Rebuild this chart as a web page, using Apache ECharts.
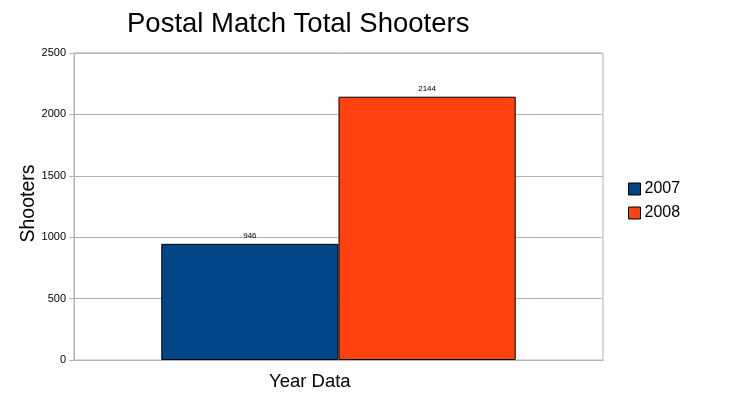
<!DOCTYPE html>
<html>
<head>
<meta charset="utf-8">
<script src="https://cdn.jsdelivr.net/npm/echarts@6/dist/echarts.min.js"></script>
<style>
  html, body { margin: 0; padding: 0; background: #fff; }
  #main { width: 755px; height: 411px; }
</style>
</head>
<body>
<div id="main"></div>
<script>
// data
const categories = ['Year Data'];
const seriesNames = ['2007', '2008'];
const values2007 = [946];
const values2008 = [2144];
const yTicks = [0, 500, 1000, 1500, 2000, 2500];

const font = 'Liberation Sans, Arial, sans-serif';

const makeSeries = (name, data, color) => ({
  name: name,
  type: 'bar',
  data: data,
  barGap: 0,
  barCategoryGap: '33%',
  itemStyle: { color: color, borderColor: '#000', borderWidth: 1 },
  label: {
    show: true,
    position: 'top',
    distance: 4,
    fontSize: 8,
    fontFamily: font,
    color: '#000'
  }
});

var myChart = echarts.init(document.getElementById('main'));
myChart.setOption({
  backgroundColor: '#fff',
  animation: false,
  title: [{
    text: 'Postal Match Total Shooters',
    left: 122,
    top: 5,
    textStyle: { fontFamily: font, fontSize: 27.5, fontWeight: 'normal', color: '#000' }
  }, {
    // x axis caption sits left of plot centre in the reference
    text: categories[0],
    left: 264,
    top: 367,
    textStyle: { fontFamily: font, fontSize: 18.5, fontWeight: 'normal', color: '#000' }
  }],
  legend: {
    orient: 'vertical',
    left: 623,
    top: 176,
    itemWidth: 12,
    itemHeight: 12,
    itemGap: 8,
    icon: 'rect',
    textStyle: { fontFamily: font, fontSize: 16, color: '#000', padding: [0, 0, 0, -1] },
    itemStyle: { borderColor: '#000', borderWidth: 1 },
    data: seriesNames
  },
  grid: {
    left: 74, right: 152, top: 53, bottom: 51,
    show: true, borderColor: '#b3b3b3', borderWidth: 1
  },
  xAxis: {
    type: 'category',
    data: categories,
    axisLine: { lineStyle: { color: '#b3b3b3' } },
    axisTick: { show: false },
    axisLabel: { show: false }
  },
  yAxis: {
    type: 'value',
    min: yTicks[0],
    max: yTicks[yTicks.length - 1],
    interval: 500,
    name: 'Shooters',
    nameLocation: 'middle',
    nameGap: 35,
    nameMoveOverlap: false,
    nameTextStyle: { fontFamily: font, fontSize: 19.5, color: '#000', padding: [0, 0, 0, 6] },
    axisLine: { show: true, lineStyle: { color: '#b3b3b3' } },
    axisTick: { show: true, length: 5, lineStyle: { color: '#b3b3b3' } },
    axisLabel: {
      fontFamily: font, fontSize: 11, color: '#000', margin: 8,
      formatter: (v) => String(v)
    },
    splitLine: { lineStyle: { color: '#b3b3b3' } }
  },
  series: [
    makeSeries(seriesNames[0], values2007, '#004586'),
    makeSeries(seriesNames[1], values2008, '#ff420e')
  ]
});
</script>
</body>
</html>
